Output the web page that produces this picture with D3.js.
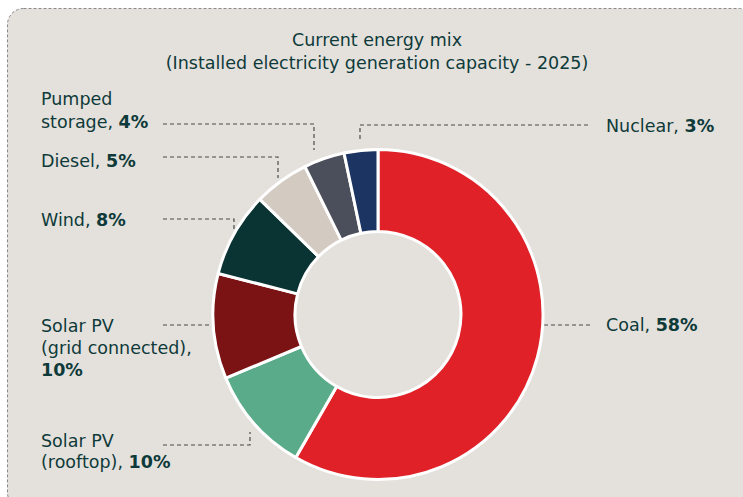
<!DOCTYPE html>
<html>
<head>
<meta charset="utf-8">
<script src="https://cdn.jsdelivr.net/npm/d3@7"></script>
<style>
  html, body { margin: 0; padding: 0; background: #ffffff; }
  svg { display: block; }
  text { font-family: "DejaVu Sans", "Open Sans", sans-serif; }
</style>
</head>
<body>
<svg id="chart" width="743" height="497"></svg>
<script>
// Installed electricity generation capacity, 2025 (share of total, %)
const categories = ["Coal", "Solar PV (rooftop)", "Solar PV (grid connected)", "Wind", "Diesel", "Pumped storage", "Nuclear"];
const shares = [58.3, 10.4, 10.3, 8.3, 5.4, 4.0, 3.3];
const sliceColors = ["#e02128", "#5aab8a", "#7b1214", "#0a3333", "#d3cbc1", "#4b4f5c", "#1c3461"];
// Text lines of each label; the rounded share is appended in bold to the last line
const labelLines = [
  ["Coal, "],
  ["Solar PV", "(rooftop), "],
  ["Solar PV", "(grid connected),", ""],
  ["Wind, "],
  ["Diesel, "],
  ["Pumped", "storage, "],
  ["Nuclear, "]
];
const titleLines = ["Current energy mix", "(Installed electricity generation capacity - 2025)"];

// Label placement: text anchor x, line baselines, and dashed leader polyline
const labelLayout = [
  { x: 606, ys: [331], leader: [[537, 325], [590, 325]] },
  { x: 41, ys: [447, 468], leader: [[163, 445], [250, 445], [250, 432]] },
  { x: 41, ys: [332, 354, 376], leader: [[163, 325], [216, 325]] },
  { x: 41, ys: [226], leader: [[163, 219], [234, 219], [234, 230]] },
  { x: 41, ys: [167], leader: [[163, 157], [278, 157], [278, 178]] },
  { x: 41, ys: [105, 128], leader: [[163, 124], [314, 124], [314, 150]] },
  { x: 606, ys: [132], leader: [[588, 125], [360, 125], [360, 142]] }
];

const textColor = "#0e3a39";
const svg = d3.select("#chart");

// Card background with dashed outline
svg.append("rect")
  .attr("x", 7.5).attr("y", 8.5)
  .attr("width", 748).attr("height", 500)
  .attr("rx", 16).attr("ry", 16)
  .attr("fill", "#e4e1dd")
  .attr("stroke", "#8a8a8a")
  .attr("stroke-width", 1)
  .attr("stroke-dasharray", "3,2");

// Title
svg.append("g").selectAll("text")
  .data(titleLines)
  .join("text")
  .attr("x", 377)
  .attr("y", (d, i) => 46 + i * 23)
  .attr("text-anchor", "middle")
  .attr("font-size", 17.5)
  .attr("font-weight", 400)
  .attr("fill", textColor)
  .text(d => d);

const cx = 378, cy = 314.5;
const outerR = 165, innerR = 83;

const pie = d3.pie().sort(null).value(d => d).startAngle(0).endAngle(2 * Math.PI);
const arcs = pie(shares);
const arc = d3.arc().innerRadius(innerR).outerRadius(outerR);

// Leader lines (beneath the ring)
const line = d3.line();
svg.append("g").selectAll("path")
  .data(labelLayout)
  .join("path")
  .attr("d", d => line(d.leader))
  .attr("fill", "none")
  .attr("stroke", "#4a4a4a")
  .attr("stroke-width", 1.2)
  .attr("stroke-dasharray", "4,3");

// Donut
svg.append("g")
  .attr("transform", `translate(${cx},${cy})`)
  .selectAll("path")
  .data(arcs)
  .join("path")
  .attr("d", arc)
  .attr("fill", (d, i) => sliceColors[i])
  .attr("stroke", "#ffffff")
  .attr("stroke-width", 3)
  .attr("stroke-linejoin", "round");

// Labels
const fmt = v => Math.round(v) + "%";
const labels = svg.append("g");
categories.forEach((name, i) => {
  const lay = labelLayout[i];
  const lines = labelLines[i];
  lines.forEach((txt, j) => {
    const t = labels.append("text")
      .attr("x", lay.x)
      .attr("y", lay.ys[j])
      .attr("font-size", 17.5)
      .attr("fill", textColor);
    t.append("tspan").text(txt);
    if (j === lines.length - 1) {
      t.append("tspan").attr("font-weight", 700).text(fmt(shares[i]));
    }
  });
});
</script>
</body>
</html>
